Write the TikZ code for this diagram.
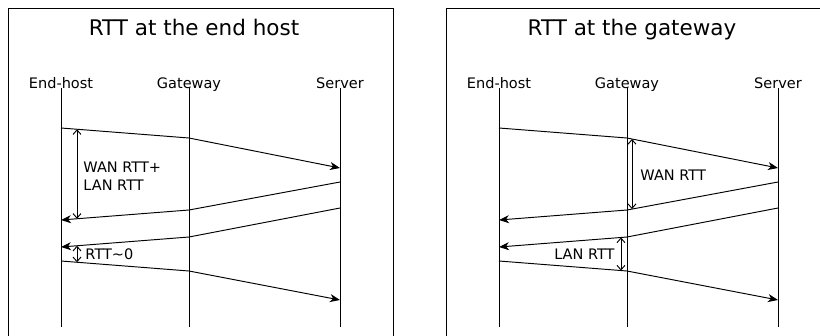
\documentclass[tikz,border=0pt]{standalone}
\usepackage{fontspec}
\setmainfont{DejaVu Sans}
\usetikzlibrary{arrows.meta, positioning, calc}
\tikzset{
    >={Stealth[length=10pt, width=8pt, inset=3pt]}, % arrow heads of the messages
    span/.style={{Straight Barb[length=4.5pt, width=8pt]}-{Straight Barb[length=4.5pt, width=8pt]}}, % RTT spans
    frame/.style={line width=1pt}, % box round each panel
    paneltitle/.style={anchor=base, font=\fontsize{21.5}{25}\selectfont}, % big heading
    actor/.style={anchor=base, font=\fontsize{14.5}{17}\selectfont}, % name over a lifeline
    note/.style={font=\fontsize{14.5}{18}\selectfont, align=left, inner sep=0pt} % RTT labels
}
\begin{document}
\begin{tikzpicture}[x=1pt, y=-1pt, line width=0.95pt]
	\useasboundingbox (0,0) rectangle (820,335);
	\clip (0,0) rectangle (820,335);
	\foreach \p/\dx/\ttl in {L/0/RTT at the end host, R/438/RTT at the gateway}{
	\begin{scope}[xshift=\dx pt]
		% Caja y titulo
		\draw[frame] (8,345) -- (8,8) -- (393,8) -- (393,345);
		\node[paneltitle] (T\p) at (194,35) {\ttl};

		% Lifelines
		\node[actor] (EH\p) at (61,88) {End-host};
		\node[actor] (GW\p) at (189,88) {Gateway};
		\node[actor] (SV\p) at (340,88) {Server};
		\coordinate (EHend\p) at (61,327);
		\coordinate (GWend\p) at (189,327);
		\coordinate (SVend\p) at (340,327);
		\draw (EH\p.base) -- (EHend\p);
		\draw (GW\p.base) -- (GWend\p);
		\draw (SV\p.base) -- (SVend\p);

		% Messages
		\foreach \m/\ya/\yb/\yc in {1/128/138/168, 2/220/210/182, 3/247/237/208, 4/261/271/300}{
			\coordinate (e\m\p) at (61,\ya);
			\coordinate (g\m\p) at (189,\yb);
			\coordinate (s\m\p) at (340,\yc);
		}
		\draw[->] (e1\p) -- (g1\p) -- (s1\p);
		\draw[->] (s2\p) -- (g2\p) -- (e2\p);
		\draw[->] (s3\p) -- (g3\p) -- (e3\p);
		\draw[->] (e4\p) -- (g4\p) -- (s4\p);
	\end{scope}
	}

	% RTT at the end host
	\coordinate (wanA) at ($(e1L)!0.125!(g1L)$);
	\coordinate (wanB) at ($(e2L)!0.125!(g2L)$);
	\draw[span] (wanA) -- (wanB);
	\node[note, anchor=west] (wanlanL) at (83,176) {WAN RTT+\\LAN RTT};
	\coordinate (zeroA) at ($(e3L)!0.125!(g3L)$);
	\coordinate (zeroB) at ($(e4L)!0.125!(g4L)$);
	\draw[span] (zeroA) -- (zeroB);
	\node[note, anchor=west] (zeroL) at (85,254) {RTT\textasciitilde0};

	% RTT at the gateway
	\coordinate (wanC) at ($(g1R)!0.033!(s1R)$);
	\coordinate (wanD) at ($(g2R)!0.033!(s2R)$);
	\draw[span] (wanC) -- (wanD);
	\node[note, anchor=west] (wanR) at (640,175) {WAN RTT};
	\coordinate (lanC) at ($(g3R)!0.047!(e3R)$);
	\coordinate (lanD) at ($(g4R)!0.047!(e4R)$);
	\draw[span] (lanC) -- (lanD);
	\node[note, anchor=east] (lanR) at (615,254) {LAN RTT};
\end{tikzpicture}
\end{document}
